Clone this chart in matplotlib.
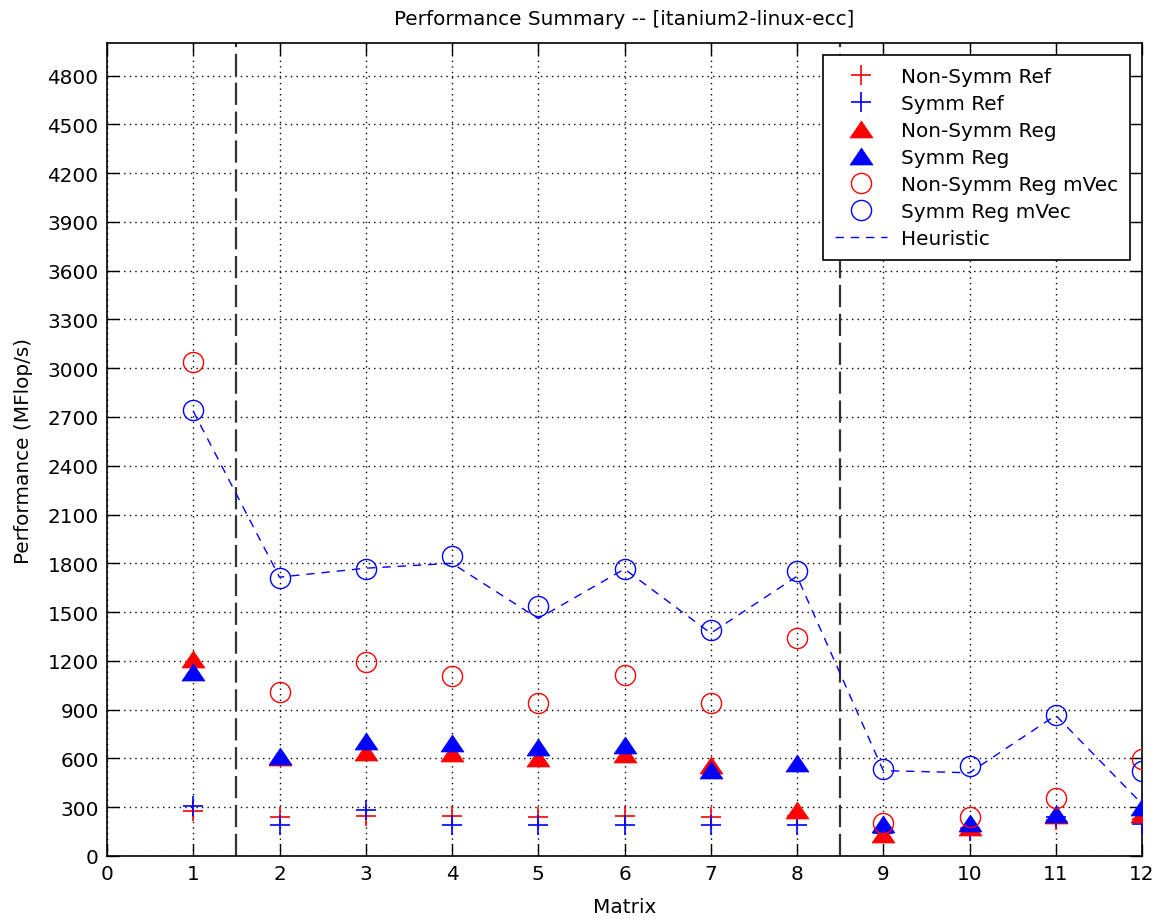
import numpy as np
import matplotlib
matplotlib.use('Agg')
import matplotlib.pyplot as plt

plt.rcParams['font.family'] = ['DejaVu Sans']

# Data
matrices = [1, 2, 3, 4, 5, 6, 7, 8, 9, 10, 11, 12]
nonsymm_ref = [275, 240, 248, 248, 238, 248, 238, 245, 150, 175, 220, 230]
symm_ref = [305, 190, 285, 191, 191, 191, 191, 190, 140, 155, 240, 195]
nonsymm_reg = [1210, 610, 640, 636, 605, 625, 560, 285, 135, 180, 250, 260]
symm_reg = [1130, 615, 705, 695, 670, 685, 530, 570, 195, 203, 260, 300]
nonsymm_mvec = [3040, 1010, 1195, 1105, 940, 1115, 940, 1340, 205, 240, 355, 595]
symm_mvec = [2740, 1710, 1765, 1845, 1540, 1765, 1390, 1750, 535, 555, 865, 520]
heuristic = [2735, 1715, 1770, 1800, 1460, 1765, 1370, 1720, 525, 512, 865, 320]
separators = [1.5, 8.5]

xticks = list(range(0, 13))
yticks = list(range(0, 4801, 300))

fs = 14.4
RED = (1, 0, 0)
BLUE = (0, 0, 1)
# wide, flat triangle like the MATLAB marker
tri = [(-1, -0.74), (1, -0.74), (0, 0.74), (-1, -0.74)]

fig = plt.figure(figsize=(11.54, 9.2), dpi=100)
ax = fig.add_axes([107/1154, 63/920, (1142-107)/1154, (857-44)/920])

for xs in separators:
    ax.plot([xs, xs], [0, 5000], color='#333333', lw=1.6,
            linestyle=(0, (10, 3)), zorder=2)

ax.plot(matrices, nonsymm_ref, linestyle='none', marker='+', ms=14,
        mew=1.2, color=RED, label='Non-Symm Ref', zorder=3)
ax.plot(matrices, symm_ref, linestyle='none', marker='+', ms=14,
        mew=1.2, color=BLUE, label='Symm Ref', zorder=3)
ax.plot(matrices, nonsymm_reg, linestyle='none', marker=tri, ms=16.5,
        mew=0.5, color=RED, label='Non-Symm Reg', zorder=3)
ax.plot(matrices, symm_reg, linestyle='none', marker=tri, ms=16.5,
        mew=0.5, color=BLUE, label='Symm Reg', zorder=3)
ax.plot(matrices, nonsymm_mvec, linestyle='none', marker='o', ms=14.5,
        mew=1.0, mfc='none', mec=RED, label='Non-Symm Reg mVec', zorder=3)
ax.plot(matrices, symm_mvec, linestyle='none', marker='o', ms=14.5,
        mew=1.0, mfc='none', mec=BLUE, label='Symm Reg mVec', zorder=3)
ax.plot(matrices, heuristic, linestyle=(0, (6, 5)), lw=1.0, color=BLUE,
        label='Heuristic', zorder=3)

ax.set_xlim(0, 12)
ax.set_ylim(0, 5000)
ax.set_xticks(xticks)
ax.set_yticks(yticks)
ax.tick_params(direction='in', length=8.5, width=1.0, labelsize=fs,
               top=True, right=True, pad=6)
ax.grid(True, color='black', linestyle=(0, (1, 3)), lw=1.0)
for sp in ax.spines.values():
    sp.set_linewidth(1.2)

ax.set_title('Performance Summary -- [itanium2-linux-ecc]', fontsize=fs, pad=14)
ax.set_xlabel('Matrix', fontsize=fs, labelpad=10)
ax.set_ylabel('Performance (MFlop/s)', fontsize=fs, labelpad=10)

leg = ax.legend(loc='upper right', fontsize=fs, frameon=True, fancybox=False,
                framealpha=1, edgecolor='black', borderaxespad=0.6,
                labelspacing=0.4, handlelength=2.6, handletextpad=0.7,
                borderpad=0.6, numpoints=1)
leg.get_frame().set_linewidth(1.2)

fig.savefig('out.png', dpi=100)
